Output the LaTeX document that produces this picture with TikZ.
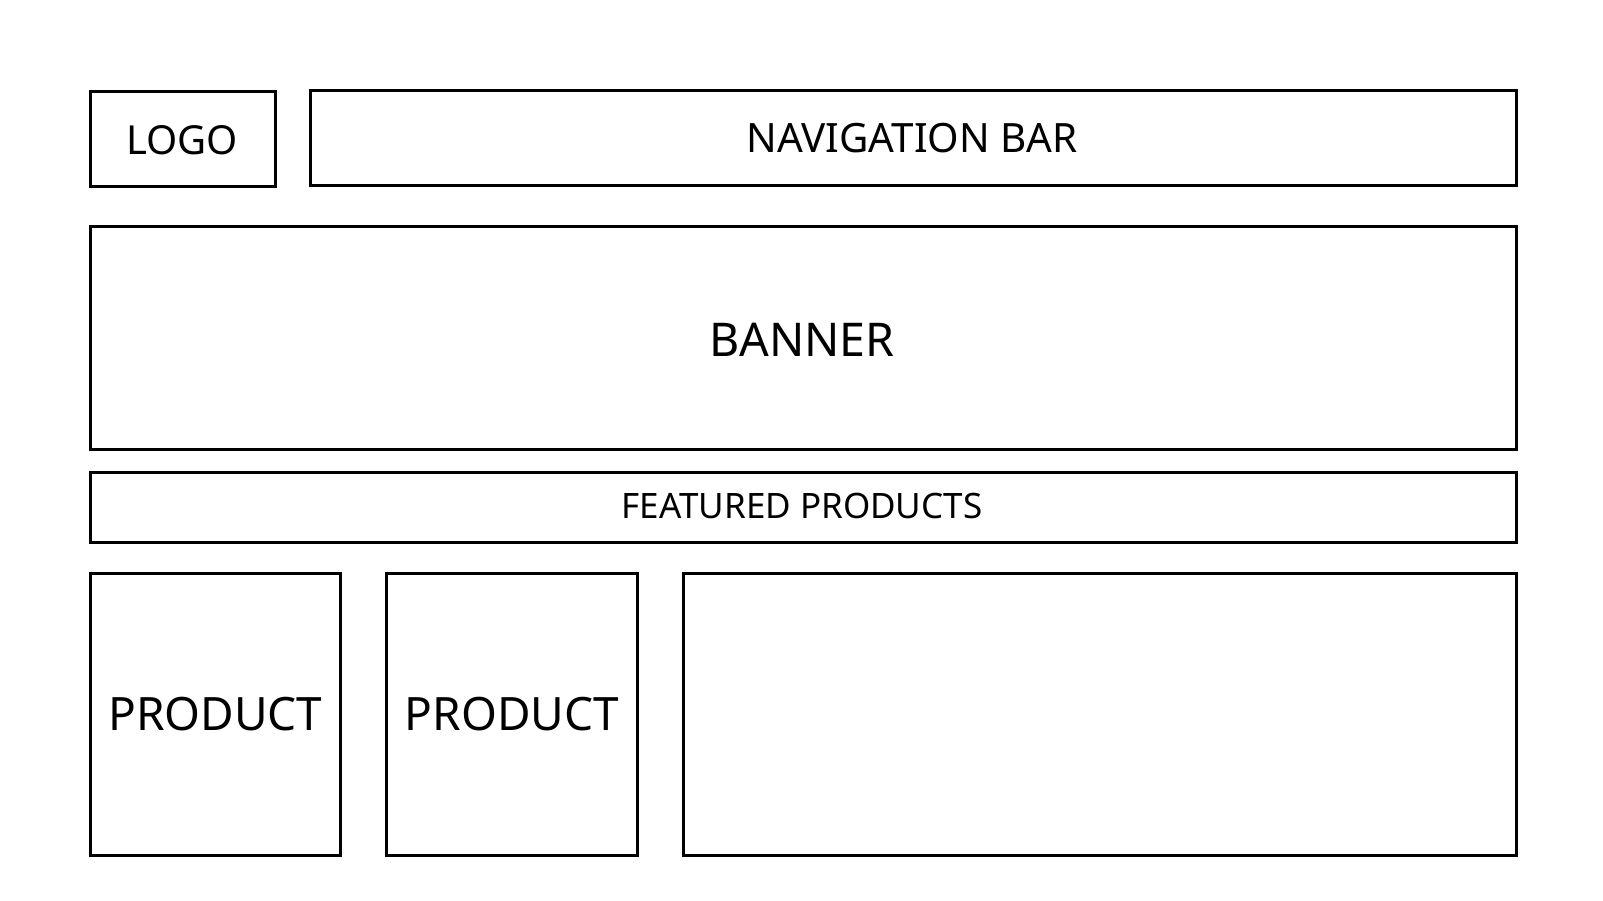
\documentclass[tikz,border=0pt]{standalone}
\usepackage{fontspec}
\setmainfont{Noto Sans}
\begin{document}
\begin{tikzpicture}[x=1pt,y=-1pt,
  box/.style={draw=black,line width=2.8pt,rectangle,inner sep=0pt,anchor=north west},
  lbl/.style={text=black,inner sep=0pt}]
\useasboundingbox[fill=white] (0,0) rectangle (1603,901);
% header row
\node[box,minimum width=185pt,minimum height=95pt] (logo) at (89,90) {};
\node[lbl,font=\fontsize{40}{48}\selectfont] at (182,140) {LOGO};
\node[box,minimum width=1206pt,minimum height=95pt] (nav) at (309,89) {};
\node[lbl,font=\fontsize{40.4}{48}\selectfont] at (912,138) {NAVIGATION BAR};
% banner
\node[box,minimum width=1426pt,minimum height=223pt] (banner) at (89,225) {};
\node[lbl,font=\fontsize{46.5}{56}\selectfont] at (802,340) {BANNER};
% featured strip
\node[box,minimum width=1426pt,minimum height=70pt] (featured) at (89,471) {};
\node[lbl,font=\fontsize{35}{42}\selectfont] at (802,506) {FEATURED PRODUCTS};
% product row
\node[box,minimum width=250pt,minimum height=282pt] (prodA) at (89,572) {};
\node[lbl,font=\fontsize{46}{55}\selectfont] at (prodA.center) {PRODUCT};
\node[box,minimum width=251pt,minimum height=282pt] (prodB) at (385,572) {};
\node[lbl,font=\fontsize{46}{55}\selectfont] at (prodB.center) {PRODUCT};
\node[box,minimum width=833pt,minimum height=282pt] (side) at (682,572) {};
\end{tikzpicture}
\end{document}
